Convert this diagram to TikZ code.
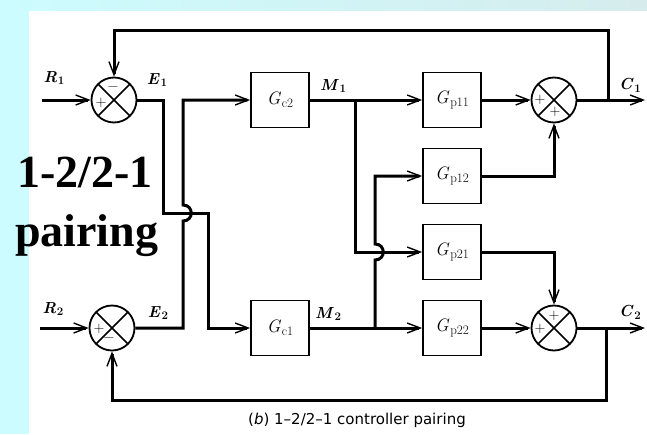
\RequirePackage{fix-cm}
\documentclass[tikz,border=0pt]{standalone}
\usepackage{fontspec}
\newfontfamily\capfont{DejaVu Sans}
\newfontfamily\bigfont{Liberation Serif}
\usetikzlibrary{arrows.meta,calc}
\definecolor{strip}{RGB}{204,252,255}
\definecolor{bartail}{RGB}{214,236,236}
\newcommand{\sgl}[2]{\textit{#1}\kern0.04em\raisebox{-0.4ex}{\scalebox{0.72}{#2}}}

\begin{document}
\begin{tikzpicture}[x=1pt,y=-1pt,
  >={Straight Barb[length=13pt,width=10pt,line width=1.4pt]},
  sig/.style={line width=3pt},
  blk/.style={shape=rectangle,draw,line width=1.8pt,minimum width=58pt,minimum height=55pt,font=\fontsize{18}{20}\selectfont},
  sum/.style={shape=circle,draw,line width=1.8pt,minimum size=45pt,inner sep=0pt,
    path picture={\draw[line width=1.5pt] (path picture bounding box.north west) -- (path picture bounding box.south east)
      (path picture bounding box.north east) -- (path picture bounding box.south west);}},
  sgn/.style={inner sep=0pt,font=\fontsize{15}{15}\selectfont},
  lbl/.style={font=\bfseries\fontsize{16}{18}\selectfont}]
\useasboundingbox (0,0) rectangle (647,434);
\fill[white] (0,0) rectangle (647,434);
\fill[strip] (0,0) rectangle (29,434);
\shade[left color=strip,right color=bartail] (0,0) rectangle (647,10);

% summing points
\node[sum] (S1) at (114,100) {};
\node[sum] (S2) at (112,328) {};
\node[sum] (A1) at (554,100) {};
\node[sum] (A2) at (554,328) {};
\node[sgn] (s1p) at ($(S1)+(-13,3)$) {+};
\node[sgn] (s1m) at ($(S1)+(-1,-12)$) {−};
\node[sgn] (s2p) at ($(S2)+(-13,1)$) {+};
\node[sgn] (s2m) at ($(S2)+(-3,11)$) {−};
\node[sgn] (a1p) at ($(A1)+(-14,0)$) {+};
\node[sgn] (a1q) at ($(A1)+(1,12)$) {+};
\node[sgn] (a2p) at ($(A2)+(0,-12)$) {+};
\node[sgn] (a2q) at ($(A2)+(-14,1)$) {+};

% blocks
\node[blk] (Gc2) at (280,100) {\sgl{G}{c2}};
\node[blk] (Gc1) at (280,328) {\sgl{G}{c1}};
\node[blk] (Gp11) at (452,100) {\sgl{G}{p11}};
\node[blk] (Gp12) at (452,176) {\sgl{G}{p12}};
\node[blk] (Gp21) at (452,252) {\sgl{G}{p21}};
\node[blk] (Gp22) at (452,328) {\sgl{G}{p22}};

% signal names
\node[lbl] (lR1) at (54,78) {\sgl{R}{1}};
\node[lbl] (lE1) at (157,80) {\sgl{E}{1}};
\node[lbl] (lM1) at (333,86) {\sgl{M}{1}};
\node[lbl] (lC1) at (630,85) {\sgl{C}{1}};
\node[lbl] (lR2) at (53,309) {\sgl{R}{2}};
\node[lbl] (lE2) at (158,313) {\sgl{E}{2}};
\node[lbl] (lM2) at (328,314) {\sgl{M}{2}};
\node[lbl] (lC2) at (630,312) {\sgl{C}{2}};

\coordinate (R1in) at (42,100);
\coordinate (R2in) at (40,328);
\coordinate (C1out) at (645,100);
\coordinate (C2out) at (645,328);
\coordinate (k1) at (163,213);
\coordinate (k2) at (208,213);
\coordinate (j1) at (183,221);
\coordinate (m1) at (355,100);
\coordinate (m2) at (375,328);
\coordinate (f1) at (608,100);
\coordinate (f2) at (606,328);

\draw[sig,->] (R1in) -- (S1);
\draw[sig,->] (R2in) -- (S2);
\draw[sig,->] (S1) -| (k1) -- (k2) |- (Gc1);
\draw[sig,->] (S2) -| (j1) .. controls +(11,0) and +(11,0) .. ++(0,-16) |- (Gc2);
\draw[sig,->] (Gc2) -- (Gp11);
\draw[sig,->] (Gc1) -- (Gp22);
\draw[sig,->] (m1) |- (Gp21);
\draw[sig,->] (m2) -- ++(0,-68) .. controls +(11,0) and +(11,0) .. ++(0,-16) |- (Gp12);
\draw[sig,->] (Gp11) -- (A1);
\draw[sig,->] (Gp12) -| (A1);
\draw[sig,->] (Gp21) -| (A2);
\draw[sig,->] (Gp22) -- (A2);
\draw[sig,->] (A1) -- (C1out);
\draw[sig,->] (A2) -- (C2out);
\draw[sig,->] (f1) -- ++(0,-70) -| (S1);
\draw[sig,->] (f2) -- ++(0,72) -| (S2);

\node[font=\capfont\fontsize{15}{17}\selectfont] (cap) at (357,420) {({\itshape b}) 1–2/2–1 controller pairing};
\node[anchor=base west,inner sep=0pt,font=\bigfont\bfseries\fontsize{46}{50}\selectfont] (pair1) at (17,187) {1-2/2-1};
\node[anchor=base west,inner sep=0pt,font=\bigfont\bfseries\fontsize{46}{50}\selectfont] (pair2) at (15,246) {pairing};
\end{tikzpicture}
\end{document}
